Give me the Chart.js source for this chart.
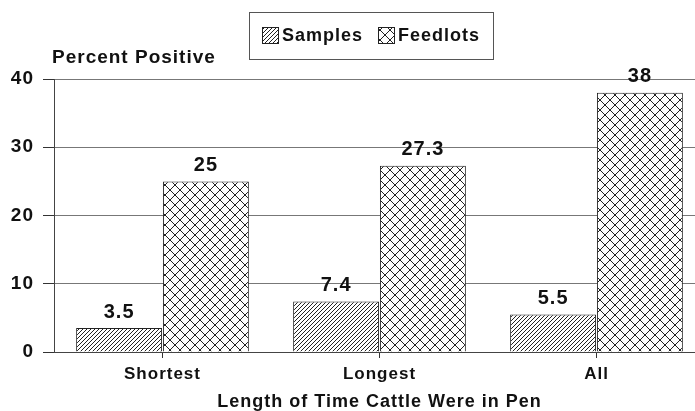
<!DOCTYPE html>
<html>
<head>
<meta charset="utf-8">
<script src="https://cdn.jsdelivr.net/npm/chart.js@4/dist/chart.umd.min.js"></script>
<style>
  html, body { margin: 0; padding: 0; background: #fff; overflow: hidden; }
  canvas { display: block; }
</style>
</head>
<body>
<canvas id="c" width="705" height="411"></canvas>
<script>
const categories = ['Shortest', 'Longest', 'All'];
const samplesValues = [3.5, 7.4, 5.5];
const feedlotsValues = [25, 27.3, 38];
const seriesNames = ['Samples', 'Feedlots'];
const yTicks = [0, 10, 20, 30, 40];
const yAxisLabel = 'Percent Positive';
const xAxisLabel = 'Length of Time Cattle Were in Pen';

const FONT = "'Liberation Sans', Arial, Helvetica, sans-serif";
const INK = '#111';

function diagPattern(p) {
  const c = document.createElement('canvas');
  c.width = p; c.height = p;
  const g = c.getContext('2d');
  g.fillStyle = '#fff'; g.fillRect(0, 0, p, p);
  g.strokeStyle = '#222'; g.lineWidth = 1;
  g.beginPath();
  g.moveTo(-1, p + 1); g.lineTo(p + 1, -1);
  g.moveTo(-1, 1); g.lineTo(1, -1);
  g.moveTo(p - 1, p + 1); g.lineTo(p + 1, p - 1);
  g.stroke();
  return g.createPattern(c, 'repeat');
}
function crossPattern(q) {
  const c = document.createElement('canvas');
  c.width = q; c.height = q;
  const g = c.getContext('2d');
  g.fillStyle = '#fff'; g.fillRect(0, 0, q, q);
  g.strokeStyle = '#222'; g.lineWidth = 1;
  g.beginPath();
  g.moveTo(0, q); g.lineTo(q, 0);
  g.moveTo(0, 0); g.lineTo(q, q);
  g.stroke();
  return g.createPattern(c, 'repeat');
}
const samplesFill = diagPattern(4);
const feedlotsFill = crossPattern(10);

const spacingPlugin = {
  id: 'spacing',
  beforeUpdate(chart) { chart.ctx.letterSpacing = '1px'; },
  beforeDraw(chart) { chart.ctx.letterSpacing = '1px'; }
};

const decorPlugin = {
  id: 'decor',
  afterDatasetsDraw(chart) {
    const ctx = chart.ctx;
    ctx.save();
    ctx.letterSpacing = '1px';
    // value labels
    ctx.fillStyle = INK;
    ctx.font = 'bold 20px ' + FONT;
    ctx.textAlign = 'center';
    ctx.textBaseline = 'middle';
    chart.data.datasets.forEach((ds, i) => {
      const meta = chart.getDatasetMeta(i);
      meta.data.forEach((el, j) => {
        ctx.fillText(String(ds.data[j]), el.x, el.y - 16);
      });
    });
    // y axis label
    ctx.font = 'bold 19px ' + FONT;
    ctx.textAlign = 'left';
    ctx.textBaseline = 'alphabetic';
    ctx.fillText(yAxisLabel, 52, 63);
    // legend box
    ctx.fillStyle = '#fff';
    ctx.fillRect(249.5, 12.5, 244, 47);
    ctx.strokeStyle = '#555';
    ctx.lineWidth = 1;
    ctx.strokeRect(249.5, 12.5, 244, 47);
    const items = [
      { name: seriesNames[0], fill: samplesFill, x: 262 },
      { name: seriesNames[1], fill: feedlotsFill, x: 378 }
    ];
    items.forEach(it => {
      ctx.fillStyle = it.fill;
      ctx.fillRect(it.x + 0.5, 27.5, 16, 16);
      ctx.strokeStyle = '#222';
      ctx.strokeRect(it.x + 0.5, 27.5, 16, 16);
      ctx.fillStyle = INK;
      ctx.font = 'bold 18px ' + FONT;
      ctx.textBaseline = 'middle';
      ctx.fillText(it.name, it.x + 20, 36);
    });
    ctx.restore();
  }
};

new Chart(document.getElementById('c'), {
  type: 'bar',
  data: {
    labels: categories,
    datasets: [
      { label: seriesNames[0], data: samplesValues, backgroundColor: samplesFill, borderColor: '#222', borderWidth: 1 },
      { label: seriesNames[1], data: feedlotsValues, backgroundColor: feedlotsFill, borderColor: '#222', borderWidth: 1 }
    ]
  },
  options: {
    responsive: false,
    animation: false,
    layout: { padding: { left: 0, right: 0, top: 79, bottom: 0 } },
    plugins: { legend: { display: false }, tooltip: { enabled: false } },
    datasets: { bar: { categoryPercentage: 0.8, barPercentage: 0.99 } },
    scales: {
      x: {
        afterFit(s) { s.height = 59; },
        grid: { offset: false, drawOnChartArea: false, drawTicks: true, tickLength: 6, tickColor: '#333' },
        border: { color: '#444', width: 1 },
        ticks: { color: INK, font: { family: FONT, size: 17, weight: 'bold' }, padding: 6, maxRotation: 0 },
        title: { display: true, text: xAxisLabel, color: INK, font: { family: FONT, size: 18, weight: 'bold', lineHeight: 1 }, padding: 0 }
      },
      y: {
        min: 0, max: 40,
        afterFit(s) { s.width = 54; },
        afterBuildTicks(s) { s.ticks = yTicks.map(v => ({ value: v })); },
        grid: { color: '#777', tickColor: '#333', tickLength: 11, drawTicks: true },
        border: { color: '#444', width: 1 },
        ticks: { color: INK, font: { family: FONT, size: 19, weight: 'bold' }, padding: 9 }
      }
    }
  },
  plugins: [spacingPlugin, decorPlugin]
});
</script>
</body>
</html>
